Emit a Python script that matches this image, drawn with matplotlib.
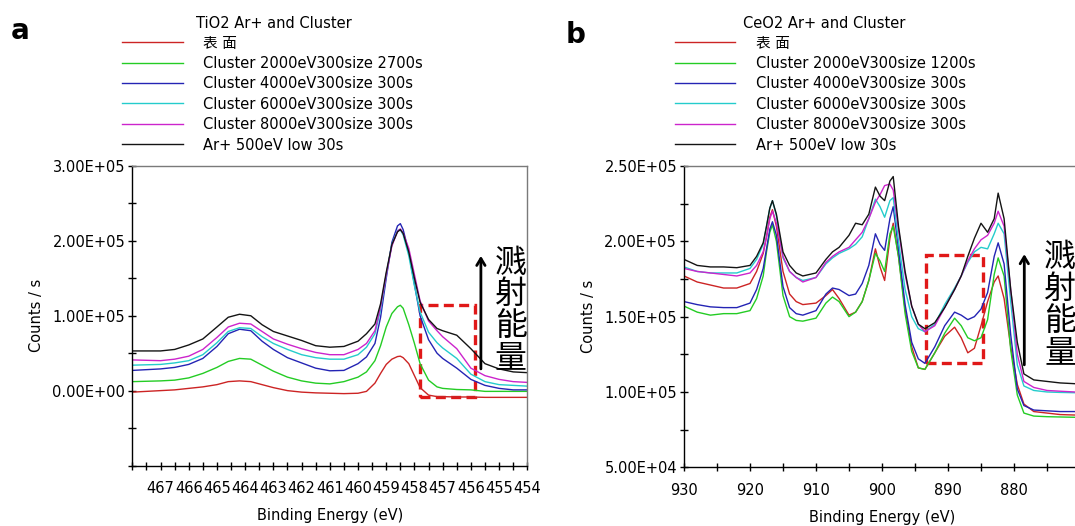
import numpy as np
import matplotlib
matplotlib.use("Agg")
import matplotlib.pyplot as plt
from matplotlib.lines import Line2D
from matplotlib.patches import Rectangle
from matplotlib.ticker import FixedLocator, MultipleLocator, FuncFormatter

# --------------------------------------------------
# 1. Data (intensities in units of 1e5 counts/s)
# --------------------------------------------------
SCALE = 1e5

series_labels_tio2 = ["表 面", "Cluster 2000eV300size 2700s", "Cluster 4000eV300size 300s",
                      "Cluster 6000eV300size 300s", "Cluster 8000eV300size 300s", "Ar+ 500eV low 30s"]
series_labels_ceo2 = ["表 面", "Cluster 2000eV300size 1200s", "Cluster 4000eV300size 300s",
                      "Cluster 6000eV300size 300s", "Cluster 8000eV300size 300s", "Ar+ 500eV low 30s"]
series_colors = ["#cc2424", "#24cc24", "#2424b4", "#24cccc", "#cc24cc", "#141414"]

# TiO2 Ti 2p
tio2_be = [468.0, 467.0, 466.5, 466.0, 465.5, 465.0, 464.6, 464.2, 463.8, 463.4, 463.0, 462.5,
           462.0, 461.5, 461.0, 460.5, 460.0, 459.7, 459.4, 459.2, 459.0, 458.8, 458.6, 458.5,
           458.4, 458.2, 458.0, 457.8, 457.5, 457.2, 457.0, 456.5, 456.0, 455.5, 455.0, 454.5, 454.0]
tio2_surface = [-0.02, 0.0, 0.01, 0.03, 0.05, 0.08, 0.12, 0.13, 0.12, 0.08, 0.04, 0.0,
                -0.02, -0.03, -0.035, -0.04, -0.035, -0.01, 0.10, 0.23, 0.35, 0.42, 0.455, 0.46,
                0.44, 0.36, 0.20, 0.04, -0.06, -0.08, -0.08, -0.085, -0.085, -0.09, -0.09, -0.09, -0.09]
tio2_c2000 = [0.12, 0.13, 0.14, 0.17, 0.23, 0.31, 0.39, 0.43, 0.42, 0.34, 0.26, 0.18,
              0.13, 0.10, 0.09, 0.12, 0.18, 0.25, 0.40, 0.60, 0.85, 1.03, 1.12, 1.14,
              1.10, 0.88, 0.63, 0.36, 0.14, 0.05, 0.03, 0.015, 0.01, -0.01, -0.01, -0.01, -0.01]
tio2_c4000 = [0.27, 0.29, 0.31, 0.35, 0.43, 0.59, 0.76, 0.82, 0.80, 0.66, 0.55, 0.44,
              0.37, 0.30, 0.265, 0.27, 0.36, 0.45, 0.63, 0.98, 1.50, 1.98, 2.20, 2.23,
              2.15, 1.85, 1.42, 1.00, 0.68, 0.50, 0.43, 0.30, 0.15, 0.07, 0.03, 0.01, 0.01]
tio2_c6000 = [0.34, 0.35, 0.37, 0.40, 0.48, 0.64, 0.79, 0.84, 0.83, 0.72, 0.63, 0.55,
              0.48, 0.44, 0.42, 0.42, 0.48, 0.58, 0.76, 1.08, 1.55, 1.95, 2.14, 2.15,
              2.08, 1.80, 1.40, 1.05, 0.78, 0.64, 0.57, 0.43, 0.22, 0.12, 0.08, 0.07, 0.06]
tio2_c8000 = [0.41, 0.40, 0.42, 0.46, 0.55, 0.71, 0.85, 0.90, 0.89, 0.79, 0.69, 0.62,
              0.56, 0.51, 0.48, 0.48, 0.55, 0.63, 0.80, 1.12, 1.55, 1.93, 2.13, 2.16,
              2.10, 1.90, 1.55, 1.20, 0.93, 0.80, 0.72, 0.56, 0.30, 0.20, 0.15, 0.12, 0.11]
tio2_ar500 = [0.53, 0.53, 0.55, 0.61, 0.69, 0.85, 0.98, 1.02, 1.00, 0.88, 0.79, 0.73,
              0.67, 0.60, 0.58, 0.59, 0.66, 0.76, 0.89, 1.16, 1.58, 1.95, 2.12, 2.15,
              2.10, 1.85, 1.50, 1.18, 0.95, 0.83, 0.80, 0.74, 0.56, 0.36, 0.29, 0.25, 0.24]

# CeO2 Ce 3d
ceo2_be = [930, 928, 926, 924, 922, 920, 919, 918, 917.5, 917, 916.6, 916,
           915, 914, 913, 912, 910, 908.5, 907.5, 906.5, 905, 904, 903, 902,
           901, 900.3, 899.6, 898.8, 898.3, 897.5, 896.5, 895.5, 894.5, 893.5, 892, 890.5,
           889, 888, 887, 886, 885, 884, 883, 882.4, 881.5, 880.5, 879.5, 878.5,
           877, 875, 873, 870.8]
ceo2_surface = [1.77, 1.73, 1.71, 1.69, 1.69, 1.72, 1.80, 1.92, 2.03, 2.16, 2.21, 2.10,
                1.80, 1.65, 1.60, 1.58, 1.59, 1.64, 1.68, 1.62, 1.51, 1.53, 1.60, 1.74,
                1.95, 1.83, 1.74, 2.02, 2.12, 1.90, 1.55, 1.30, 1.16, 1.15, 1.26, 1.37,
                1.43, 1.36, 1.26, 1.29, 1.44, 1.60, 1.73, 1.77, 1.62, 1.30, 1.05, 0.92,
                0.87, 0.86, 0.85, 0.847]
ceo2_c2000 = [1.57, 1.53, 1.51, 1.52, 1.52, 1.54, 1.62, 1.77, 1.93, 2.06, 2.11, 2.00,
              1.64, 1.50, 1.475, 1.47, 1.49, 1.59, 1.63, 1.60, 1.50, 1.53, 1.60, 1.74,
              1.92, 1.87, 1.80, 2.05, 2.10, 1.90, 1.52, 1.27, 1.16, 1.15, 1.26, 1.39,
              1.49, 1.44, 1.36, 1.34, 1.36, 1.48, 1.78, 1.89, 1.77, 1.28, 0.98, 0.86,
              0.84, 0.836, 0.834, 0.832]
ceo2_c4000 = [1.60, 1.58, 1.565, 1.56, 1.56, 1.59, 1.68, 1.82, 1.95, 2.08, 2.13, 2.04,
              1.70, 1.56, 1.52, 1.51, 1.54, 1.65, 1.69, 1.68, 1.64, 1.65, 1.72, 1.84,
              2.05, 1.98, 1.94, 2.15, 2.23, 1.95, 1.58, 1.33, 1.22, 1.19, 1.30, 1.44,
              1.53, 1.51, 1.48, 1.50, 1.55, 1.66, 1.90, 1.99, 1.85, 1.38, 1.02, 0.91,
              0.88, 0.875, 0.87, 0.87]
ceo2_c6000 = [1.83, 1.80, 1.79, 1.79, 1.79, 1.82, 1.88, 1.98, 2.10, 2.22, 2.27, 2.17,
              1.89, 1.80, 1.76, 1.74, 1.76, 1.85, 1.89, 1.92, 1.95, 1.98, 2.03, 2.15,
              2.28, 2.23, 2.16, 2.27, 2.29, 2.00, 1.68, 1.50, 1.42, 1.40, 1.45, 1.58,
              1.69, 1.77, 1.86, 1.93, 1.96, 1.95, 2.05, 2.12, 2.05, 1.60, 1.18, 1.04,
              1.01, 1.00, 0.997, 0.995]
ceo2_c8000 = [1.82, 1.80, 1.79, 1.78, 1.77, 1.79, 1.84, 1.93, 2.03, 2.15, 2.20, 2.12,
              1.90, 1.80, 1.76, 1.73, 1.76, 1.86, 1.90, 1.93, 1.96, 2.01, 2.06, 2.15,
              2.26, 2.31, 2.37, 2.38, 2.34, 2.08, 1.78, 1.57, 1.45, 1.40, 1.44, 1.56,
              1.68, 1.77, 1.87, 1.95, 2.01, 2.04, 2.12, 2.20, 2.10, 1.68, 1.25, 1.07,
              1.03, 1.01, 1.005, 1.00]
ceo2_ar500 = [1.88, 1.84, 1.83, 1.83, 1.825, 1.84, 1.90, 1.99, 2.10, 2.22, 2.27, 2.18,
              1.93, 1.84, 1.79, 1.77, 1.79, 1.88, 1.93, 1.96, 2.04, 2.12, 2.11, 2.18,
              2.36, 2.30, 2.27, 2.40, 2.43, 2.10, 1.80, 1.57, 1.45, 1.42, 1.46, 1.56,
              1.68, 1.77, 1.90, 2.02, 2.12, 2.06, 2.15, 2.32, 2.15, 1.68, 1.33, 1.12,
              1.08, 1.07, 1.06, 1.055]

tio2_series = [tio2_surface, tio2_c2000, tio2_c4000, tio2_c6000, tio2_c8000, tio2_ar500]
ceo2_series = [ceo2_surface, ceo2_c2000, ceo2_c4000, ceo2_c6000, ceo2_c8000, ceo2_ar500]

plt.rcParams["font.family"] = ["DejaVu Sans", "Noto Sans CJK SC"]
FS = 10.5

# --------------------------------------------------
# 2. Figure + axes (positions in pixels of a 1075x526 canvas)
# --------------------------------------------------
W, H = 1075, 526
fig = plt.figure(figsize=(W / 100, H / 100), dpi=100)


def px_axes(l, t, r, b):
    return fig.add_axes([l / W, 1 - b / H, (r - l) / W, (b - t) / H])


sci = FuncFormatter(lambda v, p: f"{v:.2E}")


def style_axes(ax):
    for side in ["left", "bottom"]:
        ax.spines[side].set_color("black")
        ax.spines[side].set_linewidth(1.0)
    for side in ["top", "right"]:
        ax.spines[side].set_color("#7a7a7a")
        ax.spines[side].set_linewidth(1.0)
    ax.tick_params(which="both", direction="inout", length=6, width=1, labelsize=FS)
    ax.tick_params(axis="x", which="both", pad=8)
    ax.tick_params(axis="y", which="both", pad=2)
    ax.yaxis.set_major_formatter(sci)
    ax.set_xlabel("Binding Energy (eV)", fontsize=FS, labelpad=9)
    ax.set_ylabel("Counts / s", fontsize=FS, labelpad=6)


def draw_legend(x0, x1, xt, xtitle, title, labels):
    fig.text(xtitle / W, 1 - 24 / H, title, fontsize=FS, va="center", ha="left")
    for i, (lab, col) in enumerate(zip(labels, series_colors)):
        y = 42.3 + i * 20.35
        fig.add_artist(Line2D([x0 / W, x1 / W], [1 - y / H, 1 - y / H], color=col, lw=1.0))
        fig.text(xt / W, 1 - (y + 1) / H, lab, fontsize=FS, va="center", ha="left")


def vertical_label(ax, x, y):
    ax.text(x, y, "\n".join("溅射能量"), fontsize=23, family=["Noto Sans CJK SC"],
            ha="center", va="center", linespacing=0.99, clip_on=False)


# --------------------------------------------------
# 3. Panel a: TiO2
# --------------------------------------------------
ax1 = px_axes(132.3, 166, 527.3, 465.5)
for vals, col in zip(tio2_series, series_colors):
    ax1.plot(tio2_be, np.array(vals) * SCALE, color=col, lw=1.0)
ax1.set_xlim(468, 454)
ax1.set_ylim(-1e5, 3e5)
ax1.xaxis.set_major_locator(FixedLocator(np.arange(454, 468)))
ax1.xaxis.set_minor_locator(MultipleLocator(0.5))
ax1.yaxis.set_major_locator(FixedLocator([0, 1e5, 2e5, 3e5]))
ax1.yaxis.set_minor_locator(MultipleLocator(0.5e5))
style_axes(ax1)

ax1.add_patch(Rectangle((457.8, -0.087e5), 455.87 - 457.8, 1.14e5 + 0.087e5, fill=False,
                        edgecolor="#e01818", lw=2.4, linestyle=(0, (3, 1.6))))
ax1.annotate("", xy=(455.645, 1.80e5), xytext=(455.645, 0.29e5),
             arrowprops=dict(arrowstyle="->,head_length=0.5,head_width=0.3", lw=2, color="black",
                             shrinkA=0, shrinkB=0))
vertical_label(ax1, 454.58, 1.073e5)

# --------------------------------------------------
# 4. Panel b: CeO2
# --------------------------------------------------
ax2 = px_axes(684, 166, 1080, 467.3)
for vals, col in zip(ceo2_series, series_colors):
    ax2.plot(ceo2_be, np.array(vals) * SCALE, color=col, lw=1.0)
ax2.set_xlim(930, 870)
ax2.set_ylim(0.5e5, 2.5e5)
ax2.xaxis.set_major_locator(FixedLocator([880, 890, 900, 910, 920, 930]))
ax2.xaxis.set_minor_locator(MultipleLocator(5))
ax2.yaxis.set_major_locator(FixedLocator([0.5e5, 1e5, 1.5e5, 2e5, 2.5e5]))
ax2.yaxis.set_minor_locator(MultipleLocator(0.25e5))
style_axes(ax2)

ax2.add_patch(Rectangle((893.38, 1.19e5), 884.74 - 893.38, 1.909e5 - 1.19e5, fill=False,
                        edgecolor="#e01818", lw=2.4, linestyle=(0, (3, 1.6))))
ax2.annotate("", xy=(878.44, 1.915e5), xytext=(878.44, 1.18e5),
             arrowprops=dict(arrowstyle="->,head_length=0.5,head_width=0.3", lw=2, color="black",
                             shrinkA=0, shrinkB=0))
vertical_label(ax2, 873.03, 1.577e5)

# --------------------------------------------------
# 5. Legends and panel letters
# --------------------------------------------------
draw_legend(122, 182.5, 203, 195.6, "TiO2 Ar+ and Cluster", series_labels_tio2)
draw_legend(674.8, 734.5, 755.7, 743, "CeO2 Ar+ and Cluster", series_labels_ceo2)
fig.text(11 / W, 1 - 39 / H, "a", fontsize=20, fontweight="bold", va="baseline")
fig.text(566 / W, 1 - 43 / H, "b", fontsize=20, fontweight="bold", va="baseline")

fig.savefig("out.png", dpi=100)
